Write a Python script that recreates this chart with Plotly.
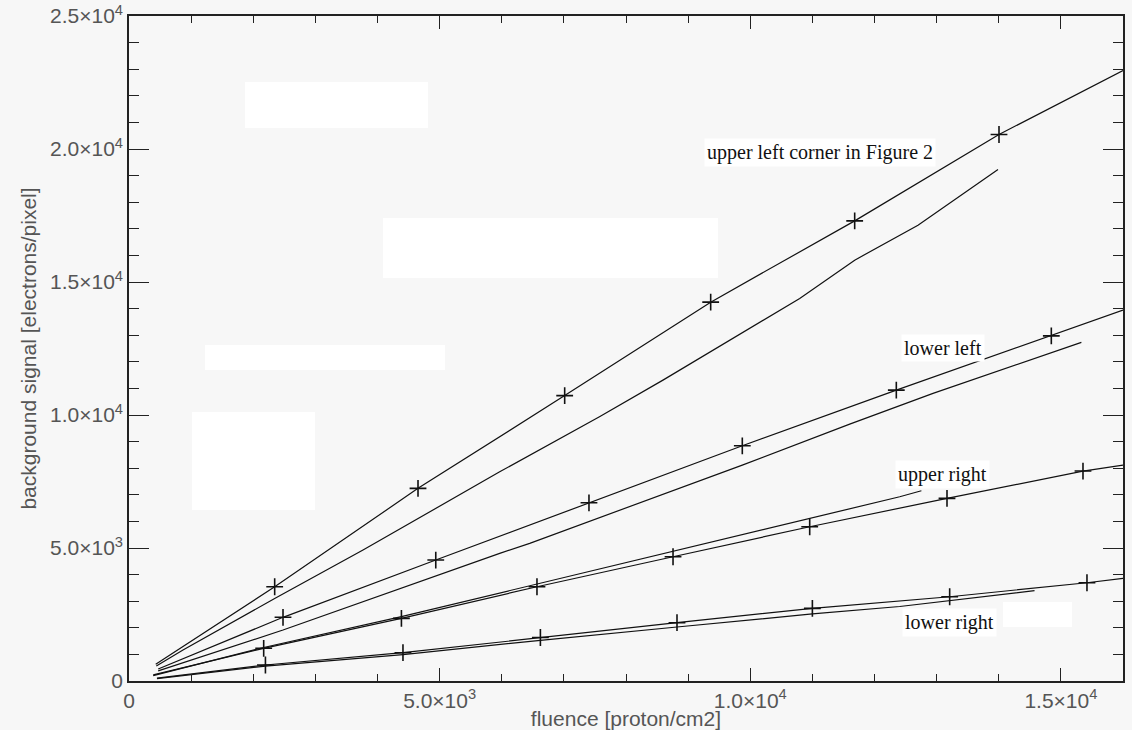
import plotly.graph_objects as go

# ---------------- data ----------------
# fitted lines (marked with "+" at the inner points); first/last points are line ends
ul_fit_x = [430, 2345, 4652, 7013, 9363, 11681, 14004, 16000]
ul_fit_y = [628, 3544, 7242, 10729, 14243, 17298, 20545, 22950]
ll_fit_x = [470, 2479, 4938, 7404, 9872, 12351, 14846, 16000]
ll_fit_y = [450, 2394, 4547, 6700, 8843, 10936, 12976, 13942]
ur_fit_x = [390, 2168, 4385, 6567, 8757, 10957, 13167, 15356, 16000]
ur_fit_y = [230, 1229, 2356, 3544, 4671, 5799, 6866, 7892, 8117]
lr_fit_x = [450, 2196, 4410, 6622, 8821, 11000, 13210, 15420, 16000]
lr_fit_y = [110, 601, 1064, 1635, 2191, 2732, 3168, 3694, 3859]

# measured curves (no markers)
ul_meas_x = [440, 869, 2345, 3767, 5967, 7573, 8595, 10796, 11681, 12700, 13988]
ul_meas_y = [560, 1165, 3100, 4923, 7865, 9932, 11311, 14382, 15821, 17136, 19230]
ll_meas_x = [470, 2479, 5967, 6450, 9872, 11601, 12942, 15330]
ll_meas_y = [380, 1917, 4799, 5175, 8117, 9656, 10812, 12729]
ur_meas_x = [390, 2168, 4385, 6567, 8757, 10954, 12406, 12755]
ur_meas_y = [200, 1260, 2420, 3640, 4870, 6114, 6926, 7152]
lr_meas_x = [450, 2196, 4410, 6622, 8821, 11000, 12406, 14576]
lr_meas_y = [90, 560, 990, 1530, 2030, 2520, 2800, 3394]

series_labels = ["upper left corner in Figure 2", "lower left", "upper right", "lower right"]

x_tickvals = [0, 5000, 10000, 15000]
x_ticktext = ["0", "5.0×10<sup>3</sup>", "1.0×10<sup>4</sup>", "1.5×10<sup>4</sup>"]
y_tickvals = [0, 5000, 10000, 15000, 20000, 25000]
y_ticktext = ["0", "5.0×10<sup>3</sup>", "1.0×10<sup>4</sup>", "1.5×10<sup>4</sup>",
              "2.0×10<sup>4</sup>", "2.5×10<sup>4</sup>"]

x_title = "fluence [proton/cm2]"
y_title = "background signal [electrons/pixel]"

# ---------------- figure ----------------
W, H = 1132, 730
ML, MR, MT, MB = 129, 9, 16, 49
PW, PH = W - ML - MR, H - MT - MB

def px2paper(px, py):
    return (px - ML) / PW, (H - MB - py) / PH

LINE = dict(color="#111111", width=1.2)
BG = "#f7f7f7"
AX = "#222222"
TXT = "#555555"

fig = go.Figure()

for fx, fy in [(ul_fit_x, ul_fit_y), (ll_fit_x, ll_fit_y),
               (ur_fit_x, ur_fit_y), (lr_fit_x, lr_fit_y)]:
    fig.add_trace(go.Scatter(x=fx, y=fy, mode="lines", line=LINE,
                             showlegend=False, hoverinfo="skip"))
    fig.add_trace(go.Scatter(x=fx[1:-1], y=fy[1:-1], mode="markers",
                             marker=dict(symbol="cross-thin", size=12,
                                         line=dict(color="#111111", width=1.6)),
                             showlegend=False, hoverinfo="skip"))

for mx, my in [(ul_meas_x, ul_meas_y), (ll_meas_x, ll_meas_y),
               (ur_meas_x, ur_meas_y), (lr_meas_x, lr_meas_y)]:
    fig.add_trace(go.Scatter(x=mx, y=my, mode="lines", line=LINE,
                             showlegend=False, hoverinfo="skip"))

# erased (white) patches in the original picture
shapes = []
for (x0, y0, x1, y1) in [(245, 82, 428, 128), (383, 218, 718, 278),
                         (205, 345, 445, 370), (192, 412, 315, 510),
                         (1003, 602, 1072, 627)]:
    a0, b0 = px2paper(x0, y1)
    a1, b1 = px2paper(x1, y0)
    shapes.append(dict(type="rect", xref="paper", yref="paper",
                       x0=a0, y0=b0, x1=a1, y1=b1,
                       fillcolor="white", line=dict(width=0), layer="below"))

label_pos = [(12996, 19880, "right"), (13097, 12514, "center"),
             (13090, 7779, "center"), (13212, 2217, "center")]
annotations = []
for txt, (ax_, ay_, anc) in zip(series_labels, label_pos):
    annotations.append(dict(x=ax_, y=ay_, xref="x", yref="y", text=txt,
                            showarrow=False, xanchor=anc, yanchor="middle",
                            bgcolor="white", borderpad=2,
                            font=dict(family="Liberation Serif", size=20, color="#111111")))

tickfont = dict(family="Liberation Sans", size=21, color=TXT)
fig.update_layout(
    width=W, height=H,
    margin=dict(l=ML, r=MR, t=MT, b=MB, autoexpand=False),
    paper_bgcolor=BG, plot_bgcolor=BG,
    shapes=shapes, annotations=annotations,
    xaxis=dict(range=[0, 16000], tickmode="array", tickvals=x_tickvals, ticktext=x_ticktext,
               ticks="inside", ticklen=13, tickwidth=1.4, tickcolor=AX,
               showline=True, linecolor=AX, linewidth=1.6, mirror="ticks",
               showgrid=False, zeroline=False, tickfont=tickfont,
               minor=dict(tickmode="linear", tick0=0, dtick=1000, ticks="inside",
                          ticklen=7, tickwidth=1.2, tickcolor=AX, showgrid=False),
               title=dict(text=x_title, font=dict(family="Liberation Sans", size=21, color=TXT),
                          standoff=0)),
    yaxis=dict(range=[0, 25000], tickmode="array", tickvals=y_tickvals, ticktext=y_ticktext,
               ticks="inside", ticklen=20, tickwidth=1.4, tickcolor=AX,
               showline=True, linecolor=AX, linewidth=1.6, mirror="ticks",
               showgrid=False, zeroline=False, tickfont=tickfont,
               minor=dict(tickmode="linear", tick0=0, dtick=1000, ticks="inside",
                          ticklen=10, tickwidth=1.2, tickcolor=AX, showgrid=False),
               title=dict(text=y_title, font=dict(family="Liberation Sans", size=21, color=TXT),
                          standoff=8)),
)

fig.write_html("out.html")
